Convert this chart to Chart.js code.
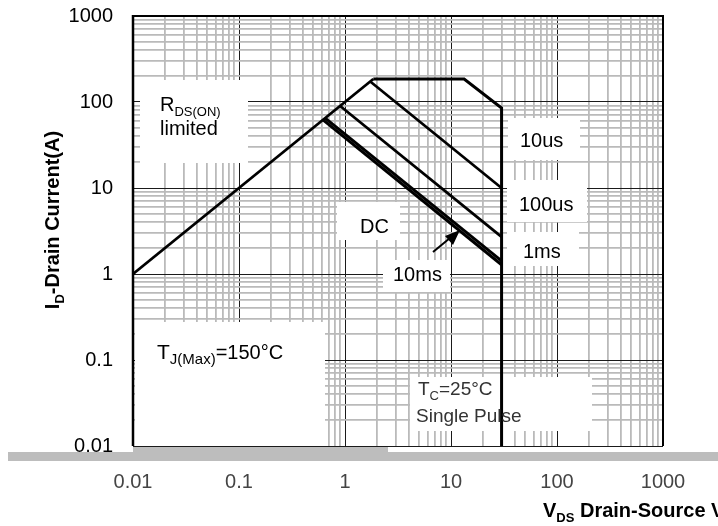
<!DOCTYPE html>
<html>
<head>
<meta charset="utf-8">
<script src="https://cdn.jsdelivr.net/npm/chart.js@4.4.0/dist/chart.umd.min.js"></script>
<style>
body{margin:0;background:#fff}
#wrap{width:718px;height:526px}
</style>
</head>
<body>
<div id="wrap"><canvas id="soa" width="718" height="526"></canvas></div>
<script>
// ===================== DATA =====================
// V = drain-source voltage (V), I = drain current (A)
const rdsV=[0.01,1.85];
const rdsI=[1,185];
const us10V=[1.85,13.3,30,30];
const us10I=[185,185,85,0.01];
const us100V=[1.73,30];
const us100I=[173,10];
const ms1V=[0.9,30];
const ms1I=[90,2.7];
const ms10V=[0.65,30];
const ms10I=[65,1.42];
const dcV=[0.62,30];
const dcI=[62,1.28];

const decades=[0.01,0.1,1,10,100,1000];
const xTickLabels=['0.01','0.1','1','10','100','1000'];
const yTickLabels=['0.01','0.1','1','10','100','1000'];

const FONT="'Liberation Sans', Arial, sans-serif";

// ===================== HELPERS =====================
function series(label,V,I,w){
  return {label,data:V.map((v,i)=>({x:v,y:I[i]})),borderColor:'#000',borderWidth:w,
    pointRadius:0,fill:false,tension:0,borderJoinStyle:'miter',borderCapStyle:'butt'};
}
function logTicks(scale){
  const t=[];
  decades.forEach((d,i)=>{
    for(let k=1;k<=9;k++){
      if(i===decades.length-1&&k>1) break;
      t.push({value:+(d*k).toPrecision(3),major:k===1});
    }
  });
  scale.ticks=t;
}
function tickLabel(labels){
  return (v,i,ticks)=>ticks[i].major?labels[Math.round(Math.log10(v))+2]:'';
}
// draws text made of pieces [text, size, subscript?]
function rich(ctx,parts,x,y,bold,color){
  ctx.fillStyle=color||'#000';
  ctx.textBaseline='alphabetic';ctx.textAlign='left';
  let cx=x;
  parts.forEach(([t,s,sub])=>{
    ctx.font=(bold?'bold ':'')+s+'px '+FONT;
    ctx.fillText(t,cx,y+(sub?5:0));
    cx+=ctx.measureText(t).width;
  });
  return cx-x;
}
function richWidth(ctx,parts,bold){
  let w=0;
  parts.forEach(([t,s])=>{ctx.font=(bold?'bold ':'')+s+'px '+FONT;w+=ctx.measureText(t).width;});
  return w;
}

// ===================== PLUGINS =====================
const labelBoxes={id:'labelBoxes',
  beforeDatasetsDraw(chart){
    const ctx=chart.ctx;ctx.save();ctx.fillStyle='#fff';
    [[140,80,108,83],[508,118,72,42],[507,180,80,42],[507,232,72,34],
     [337,202,63,38],[383,260,67,32],[135,322,190,124],[410,377,182,54]]
      .forEach(([x,y,w,h])=>ctx.fillRect(x,y,w,h));
    ctx.restore();
  }};

const notes={id:'notes',
  afterDatasetsDraw(chart){
    const ctx=chart.ctx,a=chart.chartArea;ctx.save();
    // frame
    ctx.strokeStyle='#000';
    ctx.lineWidth=2;ctx.beginPath();
    ctx.moveTo(a.left,a.top);ctx.lineTo(a.right,a.top);ctx.lineTo(a.right,a.bottom);ctx.stroke();
    ctx.lineWidth=2.5;ctx.beginPath();ctx.moveTo(a.left,a.top-1);ctx.lineTo(a.left,a.bottom);ctx.stroke();
    // bottom band
    ctx.fillStyle='#bdbdbd';
    ctx.fillRect(8,452,710,9);ctx.fillRect(133,447,255,6);
    // labels
    rich(ctx,[['R',20],['DS(ON)',13,true]],160,111);
    rich(ctx,[['limited',20]],160,135);
    rich(ctx,[['10us',20]],520,147);
    rich(ctx,[['100us',20]],519,211);
    rich(ctx,[['1ms',20]],523,258);
    rich(ctx,[['DC',20]],360,233);
    rich(ctx,[['10ms',20]],393,281);
    rich(ctx,[['T',21],['J(Max)',15,true],['=',20],['150°C',20]],157,359);
    rich(ctx,[['T',19],['C',13,true],['=25°C',19]],418,395,false,'#333');
    rich(ctx,[['Single Pulse',19]],416,422,false,'#333');
    // arrow to 10ms curve
    ctx.strokeStyle='#000';ctx.lineWidth=2;
    ctx.beginPath();ctx.moveTo(433,252);ctx.lineTo(450,238);ctx.stroke();
    ctx.beginPath();ctx.moveTo(460,230);ctx.lineTo(445,236);ctx.lineTo(453,245);ctx.closePath();
    ctx.fillStyle='#000';ctx.fill();
    ctx.restore();
  },
  afterDraw(chart){
    const ctx=chart.ctx;ctx.save();
    const yParts=[['I',20],['D',13,true],['-Drain Current(A)',20]];
    const w=richWidth(ctx,yParts,true);
    ctx.translate(52,220);ctx.rotate(-Math.PI/2);
    rich(ctx,yParts,-w/2,7,true);
    ctx.restore();
    ctx.save();
    rich(ctx,[['V',20],['DS',13,true],[' Drain-Source Voltage(V)',20]],543,517,true);
    ctx.restore();
  }};

// ===================== CHART =====================
const gridColor=c=>c.tick&&c.tick.major?'#1a1a1a':'#bababa';
const gridWidth=c=>c.tick&&c.tick.major?1:1.8;

new Chart(document.getElementById('soa').getContext('2d'),{
  type:'line',
  data:{datasets:[
    series('RDS(ON) limited',rdsV,rdsI,2.8),
    series('10us',us10V,us10I,3),
    series('100us',us100V,us100I,2.7),
    series('1ms',ms1V,ms1I,2.7),
    series('10ms',ms10V,ms10I,3),
    series('DC',dcV,dcI,3),
  ]},
  options:{
    responsive:false,animation:false,
    layout:{padding:{top:16,right:55,left:0,bottom:0}},
    plugins:{legend:{display:false},tooltip:{enabled:false}},
    scales:{
      x:{type:'logarithmic',min:0.01,max:1000,
        afterBuildTicks:logTicks,
        afterFit:s=>{s.height=80;s.paddingLeft=0;s.paddingRight=0;},
        grid:{color:gridColor,lineWidth:gridWidth,drawTicks:false},
        border:{display:false},
        ticks:{autoSkip:false,maxRotation:0,padding:24,color:'#444',font:{family:FONT,size:20},callback:tickLabel(xTickLabels)}},
      y:{type:'logarithmic',min:0.01,max:1000,
        afterBuildTicks:logTicks,
        afterFit:s=>{s.width=133;s.paddingTop=0;s.paddingBottom=0;},
        grid:{color:gridColor,lineWidth:gridWidth,drawTicks:false},
        border:{display:false},
        ticks:{autoSkip:false,padding:20,color:'#000',font:{family:FONT,size:20},callback:tickLabel(yTickLabels)}}
    }
  },
  plugins:[labelBoxes,notes]
});
</script>
</body>
</html>
